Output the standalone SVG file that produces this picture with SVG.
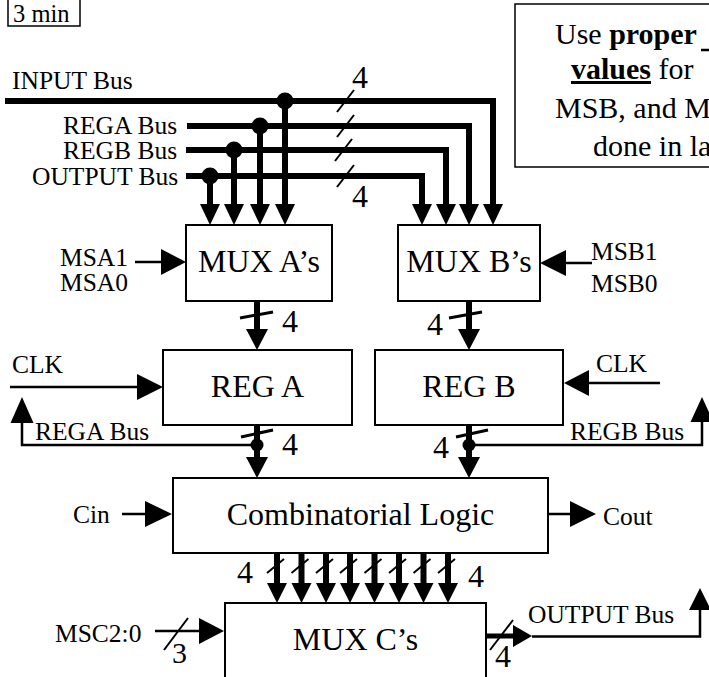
<svg xmlns="http://www.w3.org/2000/svg" width="709" height="677" viewBox="0 0 709 677">
<style>
  text { font-family: "Liberation Serif", "Times New Roman", serif; fill: #000; }
  .lbl { font-size: 25.5px; }
  .big { font-size: 32px; }
  .note { font-size: 30px; }
  .mid { text-anchor: middle; }
  .box { fill: #fff; stroke: #000; stroke-width: 2; }
  .bus { fill: none; stroke: #000; stroke-width: 6; stroke-linejoin: miter; stroke-linecap: butt; }
  .sig { fill: none; stroke: #000; stroke-width: 2.5; }
  .sl { stroke: #000; stroke-width: 2; }
  .sl3 { stroke: #000; stroke-width: 3; }
  .ah { fill: #000; }
  .dot { fill: #000; }
  .bold { font-weight: bold; }
</style>

<g id="timer">
  <rect x="8" y="-1" width="72" height="27" fill="#fff" stroke="#000" stroke-width="1.5"/>
  <text x="13" y="22" style="font-size:24.5px">3 min</text>
</g>

<g id="note">
  <rect x="515" y="4" width="300" height="163" fill="#fff" stroke="#000" stroke-width="1.5"/>
  <text class="note" x="555" y="44">Use <tspan class="bold">proper</tspan></text>
  <line x1="701" y1="50" x2="712" y2="50" stroke="#000" stroke-width="2.5"/>
  <text class="note" x="571" y="79"><tspan class="bold" text-decoration="underline">values</tspan> for</text>
  <text class="note" x="555" y="118">MSB, and M</text>
  <text class="note" x="593" y="156">done in la</text>
</g>

<g id="bus-labels">
  <text class="lbl" x="12" y="89">INPUT Bus</text>
  <text class="lbl" x="63" y="134">REGA Bus</text>
  <text class="lbl" x="63" y="159">REGB Bus</text>
  <text class="lbl" x="32" y="185">OUTPUT Bus</text>
</g>

<g id="mux-a">
  <rect class="box" x="186" y="225" width="146" height="76"/>
  <text class="big mid" x="259" y="272">MUX A’s</text>
</g>
<g id="mux-b">
  <rect class="box" x="398" y="225" width="142" height="76"/>
  <text class="big mid" x="469" y="272">MUX B’s</text>
</g>
<g id="reg-a">
  <rect class="box" x="163" y="350" width="189" height="75"/>
  <text class="big mid" x="257.5" y="397">REG A</text>
</g>
<g id="reg-b">
  <rect class="box" x="375" y="350" width="188" height="75"/>
  <text class="big mid" x="469" y="397">REG B</text>
</g>
<g id="comb">
  <rect class="box" x="173" y="478" width="375" height="75"/>
  <text class="big mid" x="360.5" y="525">Combinatorial Logic</text>
</g>
<g id="mux-c">
  <rect class="box" x="225" y="603" width="261" height="90"/>
  <text class="big mid" x="355.5" y="650">MUX C’s</text>
</g>

<g id="signal-labels">
  <text class="lbl" x="60" y="266">MSA1</text>
  <text class="lbl" x="60" y="291">MSA0</text>
  <text class="lbl" x="591" y="260">MSB1</text>
  <text class="lbl" x="591" y="292">MSB0</text>
  <text class="lbl" x="12" y="373">CLK</text>
  <text class="lbl" x="596" y="372">CLK</text>
  <text class="lbl" x="35" y="440">REGA Bus</text>
  <text class="lbl" x="570" y="440">REGB Bus</text>
  <text class="lbl" x="73" y="523">Cin</text>
  <text class="lbl" x="603" y="525">Cout</text>
  <text class="lbl" x="55" y="642">MSC2:0</text>
  <text class="lbl" x="528" y="623">OUTPUT Bus</text>
</g>

<g id="connectors">
  <!-- top buses -->
  <path class="bus" d="M5,101 H493 V205"/>
  <path class="bus" d="M187,126 H469 V205"/>
  <path class="bus" d="M186,150 H446 V205"/>
  <path class="bus" d="M186,176 H422 V205"/>
  <path class="bus" d="M285,101 V205 M260,126 V205 M234,150 V205 M210,176 V205"/>
  <circle class="dot" cx="285" cy="101" r="8.5"/>
  <circle class="dot" cx="260" cy="126" r="8.5"/>
  <circle class="dot" cx="234" cy="150" r="8.5"/>
  <circle class="dot" cx="210" cy="176" r="8.5"/>
  <polygon class="ah" points="200,204 220,204 210,225"/>
  <polygon class="ah" points="224,204 244,204 234,225"/>
  <polygon class="ah" points="250,204 270,204 260,225"/>
  <polygon class="ah" points="275,204 295,204 285,225"/>
  <polygon class="ah" points="412,204 432,204 422,225"/>
  <polygon class="ah" points="436,204 456,204 446,225"/>
  <polygon class="ah" points="459,204 479,204 469,225"/>
  <polygon class="ah" points="483,204 503,204 493,225"/>
  <line class="sl" x1="337" y1="112" x2="354" y2="90"/>
  <line class="sl" x1="337" y1="137" x2="354" y2="115"/>
  <line class="sl" x1="335" y1="161" x2="352" y2="139"/>
  <line class="sl" x1="337" y1="187" x2="354" y2="165"/>
  <text class="big" x="352" y="88">4</text>
  <text class="big" x="352" y="207">4</text>

  <!-- select inputs -->
  <line class="sig" x1="135" y1="262" x2="162" y2="262"/>
  <polygon class="ah" points="161,249 186,262 161,275"/>
  <line class="sig" x1="592" y1="263" x2="565" y2="263"/>
  <polygon class="ah" points="566,250 540,263 566,276"/>

  <!-- MUX to REG -->
  <path class="bus" d="M257,301 V330 M469,301 V330"/>
  <polygon class="ah" points="246,329 268,329 257,350"/>
  <polygon class="ah" points="458,329 480,329 469,350"/>
  <line class="sl3" x1="240" y1="318" x2="273" y2="312"/>
  <line class="sl3" x1="449" y1="318" x2="482" y2="312"/>
  <text class="big" x="282" y="332">4</text>
  <text class="big" x="427" y="335">4</text>

  <!-- clocks -->
  <line class="sig" x1="10" y1="387" x2="138" y2="387"/>
  <polygon class="ah" points="137,374 163,387 137,400"/>
  <line class="sig" x1="660" y1="383" x2="588" y2="383"/>
  <polygon class="ah" points="589,370 564,383 589,396"/>

  <!-- REG outputs -->
  <path class="bus" d="M257,425 V458 M469,425 V458"/>
  <polygon class="ah" points="246,457 268,457 257,478"/>
  <polygon class="ah" points="458,457 480,457 469,478"/>
  <line class="sl3" x1="241" y1="437" x2="273" y2="430"/>
  <line class="sl3" x1="456" y1="437" x2="488" y2="430"/>
  <circle class="dot" cx="257" cy="445" r="6.5"/>
  <circle class="dot" cx="469" cy="445" r="6.5"/>
  <path class="sig" d="M257,445 H22 V422"/>
  <polygon class="ah" points="10.5,423 33.5,423 22,397"/>
  <path class="sig" d="M469,445 H702 V421"/>
  <polygon class="ah" points="690.5,422 713.5,422 702,397"/>
  <text class="big" x="282" y="455">4</text>
  <text class="big" x="433" y="458">4</text>

  <!-- carry -->
  <line class="sig" x1="122" y1="514" x2="146" y2="514"/>
  <polygon class="ah" points="145,501 172,514 145,527"/>
  <line class="sig" x1="548" y1="514" x2="571" y2="514"/>
  <polygon class="ah" points="570,501 596,514 570,527"/>

  <!-- comb to MUX C -->
  <path class="bus" d="M277,553 V584 M301.5,553 V584 M326,553 V584 M350,553 V584 M374.5,553 V584 M399,553 V584 M423.5,553 V584 M448,553 V584"/>
  <polygon class="ah" points="267,583 287,583 277,603"/>
  <polygon class="ah" points="291.5,583 311.5,583 301.5,603"/>
  <polygon class="ah" points="316,583 336,583 326,603"/>
  <polygon class="ah" points="340,583 360,583 350,603"/>
  <polygon class="ah" points="364.5,583 384.5,583 374.5,603"/>
  <polygon class="ah" points="389,583 409,583 399,603"/>
  <polygon class="ah" points="413.5,583 433.5,583 423.5,603"/>
  <polygon class="ah" points="438,583 458,583 448,603"/>
  <line class="sl" x1="267" y1="573" x2="284" y2="559"/>
  <line class="sl" x1="291.5" y1="573" x2="308.5" y2="559"/>
  <line class="sl" x1="316" y1="573" x2="333" y2="559"/>
  <line class="sl" x1="340" y1="573" x2="357" y2="559"/>
  <line class="sl" x1="364.5" y1="573" x2="381.5" y2="559"/>
  <line class="sl" x1="389" y1="573" x2="406" y2="559"/>
  <line class="sl" x1="413.5" y1="573" x2="430.5" y2="559"/>
  <line class="sl" x1="438" y1="573" x2="455" y2="559"/>
  <text class="big" x="237" y="583">4</text>
  <text class="big" x="468" y="587">4</text>

  <!-- MSC select -->
  <line class="sig" x1="155" y1="631" x2="200" y2="631"/>
  <polygon class="ah" points="199,618 224,631 199,644"/>
  <line class="sl" x1="164" y1="650" x2="188" y2="618"/>
  <text x="172" y="663" style="font-size:30px">3</text>

  <!-- MUX C output -->
  <line x1="486" y1="636" x2="514" y2="636" stroke="#000" stroke-width="5"/>
  <polygon class="ah" points="513,625 532,636 513,647"/>
  <path class="sig" d="M532,636.5 H700 V609"/>
  <polygon class="ah" points="689,610 711,610 700,588"/>
  <line class="sl" x1="490" y1="650" x2="513" y2="620"/>
  <text class="big" x="495" y="667">4</text>
</g>
</svg>
